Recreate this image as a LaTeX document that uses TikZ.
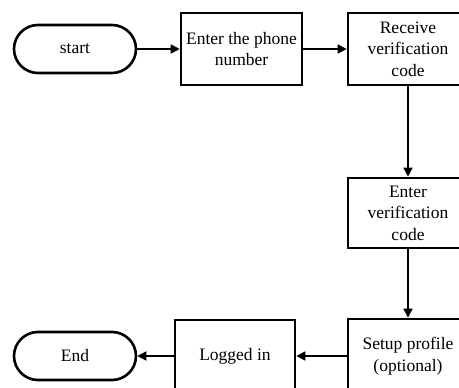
\documentclass[tikz,border=0pt]{standalone}
\usepackage{fontspec}
\setmainfont{Liberation Serif}
\usetikzlibrary{arrows.meta}
\begin{document}
\begin{tikzpicture}[x=1pt,y=-1pt,
  every node/.style={font=\fontsize{17.5}{21.5}\selectfont, align=center, inner sep=0pt},
  stepbox/.style={draw, line width=2.6pt, minimum width=120pt, minimum height=72pt},
  terminal/.style={draw, line width=2.6pt, rounded corners=24pt, minimum width=122pt, minimum height=48pt},
  flow/.style={line width=1.6pt, -{Triangle[length=9pt,width=9pt]}}]
  \useasboundingbox (0,0) rectangle (459,388);
  \clip (0,0) rectangle (459,388);
  % top row
  \node[terminal] (start) at (75,49) {start};
  \node[stepbox, minimum width=121pt] (phone) at (241.5,49) {Enter the phone\\number};
  \node[stepbox] (recv) at (408,49) {Receive\\verification\\code};
  % right column
  \node[stepbox, minimum height=70pt] (code) at (408,213) {Enter\\verification\\code};
  \node[stepbox, minimum height=74pt] (setup) at (408,356) {Setup profile\\(optional)};
  % bottom row
  \node[stepbox] (logged) at (235,356) {Logged in};
  \node[terminal] (end) at (75,356) {End};
  % connectors
  \draw[flow] (start) -- (phone);
  \draw[flow] (phone) -- (recv);
  \draw[flow] (recv) -- (code);
  \draw[flow] (code) -- (setup);
  \draw[flow] (setup) -- (logged);
  \draw[flow] (logged) -- (end);
\end{tikzpicture}
\end{document}
